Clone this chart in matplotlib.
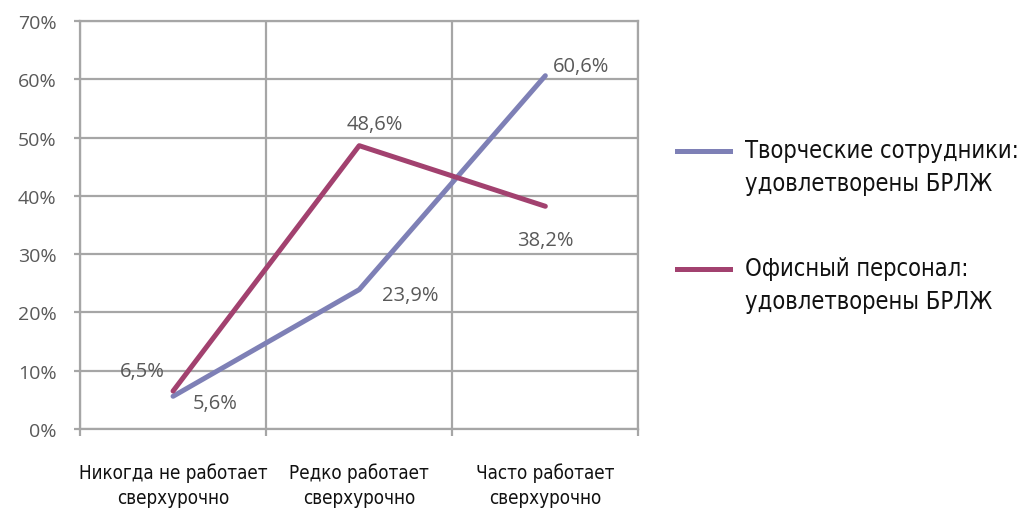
import matplotlib
matplotlib.use("Agg")
import matplotlib.pyplot as plt
import matplotlib.transforms as mtransforms
from matplotlib.ticker import FuncFormatter

# ---------------------------------------------------------------
# Data
# ---------------------------------------------------------------
categories = [["Никогда не работает", "сверхурочно"],
              ["Редко работает", "сверхурочно"],
              ["Часто работает", "сверхурочно"]]
creative = [5.6, 23.9, 60.6]
office = [6.5, 48.6, 38.2]
creative_label = ["Творческие сотрудники:", "удовлетворены БРЛЖ"]
office_label = ["Офисный персонал:", "удовлетворены БРЛЖ"]

# ---------------------------------------------------------------
# Style
# ---------------------------------------------------------------
C_CREATIVE = "#7E80B6"
C_OFFICE = "#A2416F"
GRID = "#A6A6A6"
TICK = "#595959"
COND = dict(family="DejaVu Sans", stretch="condensed")
GRAY_FONT = ["Open Sans", "DejaVu Sans"]
W, H = 1019.0, 510.0

fig = plt.figure(figsize=(W / 100, H / 100), dpi=100)
fig.patch.set_facecolor("white")
ax = fig.add_axes([0.0785, 0.157, 0.548, 0.8])

x = [i + 0.5 for i in range(len(categories))]
ax.plot(x, creative, color=C_CREATIVE, linewidth=3.6, solid_joinstyle="round",
        solid_capstyle="round", zorder=3)
ax.plot(x, office, color=C_OFFICE, linewidth=3.6, solid_joinstyle="round",
        solid_capstyle="round", zorder=3)

# data labels: (series, index, dx, dy, ha) — offsets in pixels
label_pos = [
    (creative, 0, 20, -7, "left"),
    (creative, 1, 23, -5, "left"),
    (creative, 2, 8, 10, "left"),
    (office, 0, -8, 20, "right"),
    (office, 1, 16, 22, "center"),
    (office, 2, 0, -34, "center"),
]
for series, i, dx, dy, ha in label_pos:
    ax.annotate(f"{series[i]:.1f}%".replace(".", ","), xy=(x[i], series[i]),
                xytext=(dx, dy), textcoords="offset pixels",
                ha=ha, va="center", fontsize=14.5, color=TICK, family=GRAY_FONT)

ax.set_xlim(0, 3)
ax.set_ylim(0, 70)
ax.set_yticks(range(0, 71, 10))
ax.yaxis.set_major_formatter(FuncFormatter(lambda v, p: f"{v:.0f}%"))
ax.set_xticks([0, 1, 2, 3])
ax.set_xticklabels([])
ax.grid(True, color=GRID, linewidth=1.6)
ax.set_axisbelow(True)
for s in ax.spines.values():
    s.set_color(GRID)
    s.set_linewidth(1.6)
ax.tick_params(axis="x", color=GRID, width=1.6, length=5)
ax.tick_params(axis="y", color=GRID, width=1.6, length=4, labelsize=14,
               labelcolor=TICK, pad=13)
for lab in ax.get_yticklabels():
    lab.set_family(GRAY_FONT)

# category labels: two lines each, x in data, y in figure coords
cat_trans = mtransforms.blended_transform_factory(ax.transData, fig.transFigure)
for xi, lines in zip(x, categories):
    for k, line in enumerate(lines):
        ax.text(xi, 1 - (479 + 25 * k) / H, line, ha="center", va="baseline",
                fontsize=13.5, color="#111111", transform=cat_trans, **COND)

# legend drawn as lines + text in figure coords
for (yl, col, lab) in [(152, C_CREATIVE, creative_label),
                       (270, C_OFFICE, office_label)]:
    fig.add_artist(plt.Line2D([0.664, 0.716], [1 - yl / H, 1 - yl / H],
                              color=col, linewidth=3.6))
    for k, line in enumerate(lab):
        fig.text(0.731, 1 - (yl + 6 + 33 * k) / H, line, ha="left",
                 va="baseline", fontsize=17, color="#111111", **COND)

fig.savefig("out.png", dpi=100)
